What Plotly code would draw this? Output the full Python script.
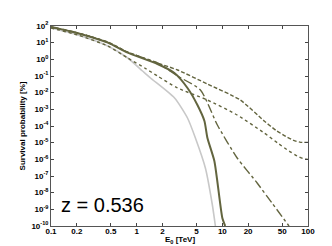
import plotly.graph_objects as go

# energies [TeV] and log10 survival probability [%]
e_dash = [0.1, 0.206, 0.46, 0.786, 1.75, 3.0, 6.7, 16.2, 30.8, 42, 55, 68, 82, 100]
p_dash = [1.94, 1.58, 1.04, 0.44, -0.22, -0.64, -1.48, -2.44, -3.70, -4.25, -4.62, -4.86, -4.98, -4.98]

e_dot = [0.1, 0.206, 0.46, 0.786, 1.24, 1.75, 3.0, 6.7, 14.9, 30.8, 45, 60, 75, 88, 100]
p_dot = [1.88, 1.46, 0.80, 0.08, -0.52, -1.0, -1.72, -2.44, -3.34, -4.42, -5.05, -5.5, -5.8, -5.96, -6.0]

e_dashdot = [0.1, 0.206, 0.46, 0.786, 1.75, 3.0, 5.55, 8.75, 14.9, 25.5, 38, 60]
p_dashdot = [1.94, 1.58, 1.02, 0.42, -0.22, -1.0, -1.84, -3.94, -5.92, -7.42, -8.62, -10]

e_solid = [0.1, 0.206, 0.46, 0.786, 1.75, 2.76, 3.92, 5.12, 6.18, 6.7, 8.07, 10, 10.8]
p_solid = [1.94, 1.57, 1.0, 0.40, -0.28, -0.82, -1.72, -2.74, -3.70, -4.72, -6.1, -9.52, -10]

e_gray = [0.1, 0.206, 0.46, 0.786, 1.17, 1.45, 2.77, 3.92, 4.85, 6.34, 7.65, 8.3]
p_gray = [1.88, 1.46, 0.80, 0.08, -0.70, -1.12, -2.32, -3.52, -4.72, -6.52, -8.74, -10]

xticks = [0.1, 0.2, 0.5, 1, 2, 5, 10, 20, 50, 100]
xlabels = ["0.1", "0.2", "0.5", "1", "2", "5", "10", "20", "50", "100"]
yexps = list(range(2, -11, -1))

olive = "#63653f"

fig = go.Figure()
fig.add_trace(go.Scatter(x=e_gray, y=[10**v for v in p_gray], mode="lines", line_shape="spline",
                         line=dict(color="#c8c8c8", width=1.6, smoothing=0.6)))
fig.add_trace(go.Scatter(x=e_dot, y=[10**v for v in p_dot], mode="lines", line_shape="spline",
                         line=dict(color=olive, width=1.4, dash="dot", smoothing=0.6)))
fig.add_trace(go.Scatter(x=e_dashdot, y=[10**v for v in p_dashdot], mode="lines", line_shape="spline",
                         line=dict(color=olive, width=1.4, dash="dashdot", smoothing=0.6)))
fig.add_trace(go.Scatter(x=e_dash, y=[10**v for v in p_dash], mode="lines", line_shape="spline",
                         line=dict(color=olive, width=1.4, dash="4px,2px", smoothing=0.6)))
fig.add_trace(go.Scatter(x=e_solid, y=[10**v for v in p_solid], mode="lines", line_shape="spline",
                         line=dict(color=olive, width=2, smoothing=0.6)))

axis_font = dict(family="Arial, Liberation Sans", size=8, color="black")
fig.update_xaxes(type="log", range=[-1, 2], tickvals=xticks,
                 ticktext=["<b>%s</b>" % t for t in xlabels],
                 ticks="inside", ticklen=3, mirror="ticks", showline=True,
                 linecolor="#555555", linewidth=1, showgrid=False, zeroline=False,
                 tickfont=axis_font, ticklabelstandoff=-3)
fig.update_yaxes(type="log", range=[-10, 2], tickvals=[10.0**k for k in yexps],
                 ticktext=["<b>10<sup>%d</sup></b>" % k for k in yexps],
                 ticks="inside", ticklen=3, mirror="ticks", showline=True,
                 linecolor="#555555", linewidth=1, showgrid=False, zeroline=False,
                 tickfont=axis_font,
                 title=dict(text="<b>Survival probability [%]</b>", font=axis_font, standoff=4))
# x title placed just under the tick labels
fig.add_annotation(x=0.5, y=-0.07, xref="paper", yref="paper", xanchor="center", yanchor="middle",
                   text="<b>E<sub>0</sub> [TeV]</b>", showarrow=False, font=axis_font)
fig.add_annotation(x=0.03, y=0.04, xref="paper", yref="paper", xanchor="left", yanchor="bottom",
                   text="z = 0.536", showarrow=False,
                   font=dict(family="Arial, Liberation Sans", size=20, color="black"))
fig.update_layout(width=332, height=246, showlegend=False,
                  margin=dict(l=43, r=32, t=18, b=28),
                  plot_bgcolor="white", paper_bgcolor="white")
fig.write_html("out.html")
